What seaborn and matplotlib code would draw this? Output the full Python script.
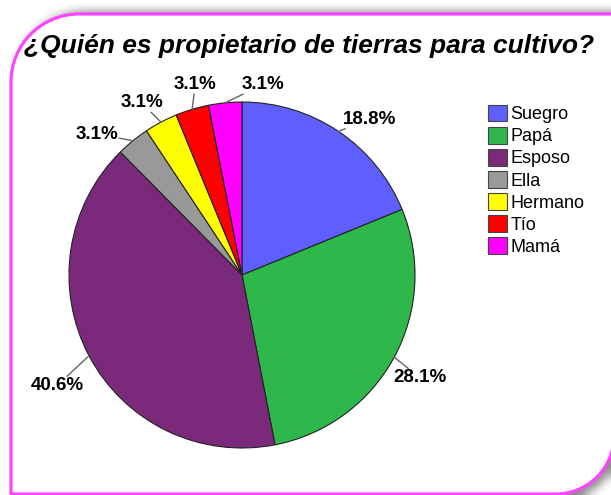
import numpy as np
import matplotlib
matplotlib.use("Agg")
import matplotlib.pyplot as plt
import seaborn as sns
from matplotlib.path import Path
from matplotlib.patches import PathPatch, Patch

# ---------------- data ----------------
title = "¿Quién es propietario de tierras para cultivo?"
categories = ["Suegro", "Papá", "Esposo", "Ella", "Hermano", "Tío", "Mamá"]
percentages = [18.8, 28.1, 40.6, 3.1, 3.1, 3.1, 3.1]
colors = ["#5F5FFF", "#2EB84B", "#7B2A7B", "#999999", "#FFFF00", "#FF0000", "#FF00FF"]

# ---------------- layout ----------------
W, H = 611, 495
label_xy = [(0.74, 0.90), (1.03, -0.595), (-1.07, -0.64), (-0.84, 0.815),
            (-0.58, 0.995), (-0.27, 1.10), (0.12, 1.10)]

sns.set_theme(style="white")
plt.rcParams["font.family"] = ["Liberation Sans", "DejaVu Sans"]
plt.rcParams["text.color"] = "black"
palette = sns.color_palette(colors)

fig = plt.figure(figsize=(W / 100, H / 100), dpi=100)
fig.patch.set_facecolor("white")

# ---------- background frame (round diagonal corner rectangle) ----------
def frame_path(x0, y0, x1, y1, r1, r2):
    k = 0.5523
    verts = [(x0 + r1, y0), (x1, y0), (x1, y1 - r2),
             (x1, y1 - r2 + k * r2), (x1 - r2 + k * r2, y1), (x1 - r2, y1),
             (x0, y1), (x0, y0 + r1),
             (x0, y0 + r1 - k * r1), (x0 + r1 - k * r1, y0), (x0 + r1, y0)]
    codes = [Path.MOVETO, Path.LINETO, Path.LINETO,
             Path.CURVE4, Path.CURVE4, Path.CURVE4,
             Path.LINETO, Path.LINETO,
             Path.CURVE4, Path.CURVE4, Path.CURVE4]
    return Path(verts, codes)

bx0, by0, bx1, by1 = 11, 14, 614, 494
box = frame_path(bx0, by0, bx1, by1, 68, 58)
shadow = frame_path(bx0 + 6, by0 - 3, bx1 + 6, by1 + 5, 68, 58)

yy, xx = np.mgrid[0:H, 0:W] + 0.5
mask = shadow.contains_points(np.c_[xx.ravel(), yy.ravel()]).reshape(H, W).astype(float)

def box_blur(a, r, axis):
    pad = [(0, 0), (0, 0)]
    pad[axis] = (r + 1, r)
    p = np.pad(a, pad, mode="edge")
    c = np.cumsum(p, axis=axis)
    if axis == 0:
        return (c[2 * r + 1:] - c[:-2 * r - 1]) / (2 * r + 1)
    return (c[:, 2 * r + 1:] - c[:, :-2 * r - 1]) / (2 * r + 1)

b = mask
for _ in range(3):
    b = box_blur(b, 4, 0)
    b = box_blur(b, 4, 1)
shade = 1 - 0.45 * b

bg = fig.add_axes([0, 0, 1, 1])
bg.set_xlim(0, W)
bg.set_ylim(H, 0)
bg.axis("off")
bg.imshow(shade, cmap="gray", vmin=0, vmax=1, extent=(0, W, H, 0), zorder=0,
          interpolation="bilinear")
bg.add_patch(PathPatch(box, facecolor="white", edgecolor="#FF44FF", lw=2.3, zorder=1))

fig.text(309 / W, 1 - 46 / H, title, ha="center", va="center", fontsize=19,
         fontweight="bold", style="italic", color="black")

# ---------------- pie ----------------
cx, cy, R = 242, 275, 173
ax = fig.add_axes([(cx - R) / W, (H - cy - R) / H, 2 * R / W, 2 * R / H])

wedges, _ = ax.pie(percentages, colors=palette, startangle=90, counterclock=False,
                   radius=1, wedgeprops=dict(edgecolor="#222222", linewidth=0.8))
ax.set_xlim(-1, 1)
ax.set_ylim(-1, 1)
ax.axis("off")

for w, pct, pos in zip(wedges, percentages, label_xy):
    mid = np.deg2rad((w.theta1 + w.theta2) / 2)
    ax.annotate(f"{pct:.1f}%", xy=(np.cos(mid), np.sin(mid)), xytext=pos,
                ha="center", va="center", fontsize=13.5, fontweight="bold",
                color="black",
                bbox=dict(boxstyle="square,pad=0.05", fc="none", ec="none"),
                arrowprops=dict(arrowstyle="-", color="#666666", lw=1,
                                shrinkA=0, shrinkB=0),
                annotation_clip=False)

handles = [Patch(facecolor=c, edgecolor="#444444", linewidth=0.8) for c in palette]
fig.legend(handles, categories, loc="upper left",
           bbox_to_anchor=(484 / W, 1 - 101 / H), frameon=False, fontsize=13,
           handlelength=1.05, handleheight=1.05, handletextpad=0.2,
           labelspacing=0.2, borderpad=0.2, borderaxespad=0)

fig.savefig("out.png", dpi=100)
